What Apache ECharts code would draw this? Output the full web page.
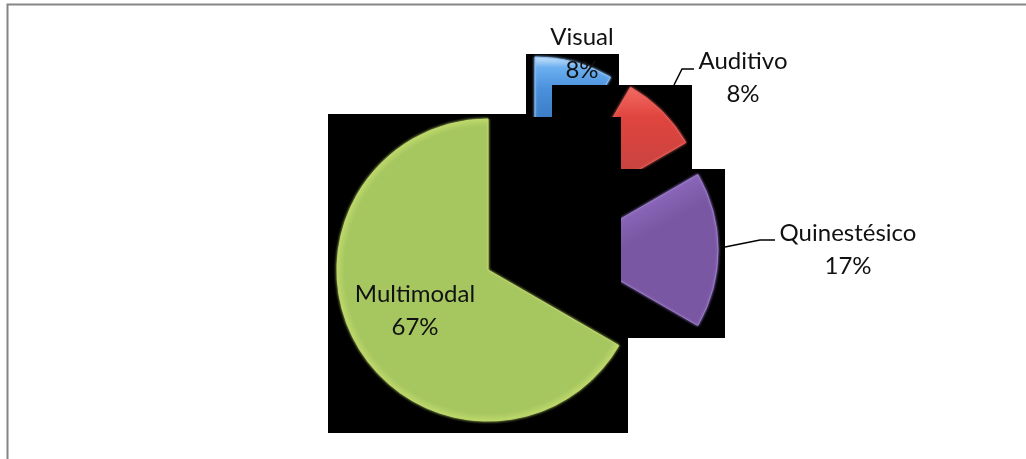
<!DOCTYPE html>
<html>
<head>
<meta charset="utf-8">
<title>Estilos de aprendizaje</title>
<style>
html,body{margin:0;padding:0;background:#fff;}
#box1{width:1026px;height:459px;}
</style>
<script src="https://cdn.jsdelivr.net/npm/echarts@6/dist/echarts.min.js"></script>
</head>
<body>
<div id="box1"></div>
<script>
var nameList = ['Visual', 'Auditivo', 'Quinestésico', 'Multimodal'];
var valueList = [1, 1, 2, 8];

// cada rebanada va separada del centro, con su recuadro negro detras
var centerList = [[535, 208], [555, 218], [567, 250], [488, 270]];
var labelPos = [[582, 54], [743, 78], [848, 250], [415, 311]];
var pieZ = [2, 4, 6, 9];
var edgeList = ['#8fc0f2', '#e8605a', '#9a7ccb', '#bfd96c'];

function linearFill(x, y, x2, y2, stops) {
	return {
		type: 'linear', x: x, y: y, x2: x2, y2: y2, global: true,
		colorStops: stops
	};
}

var fillList = [
	linearFill(0, 58, 0, 120, [
		{offset: 0, color: '#c4e0fa'},
		{offset: 0.15, color: '#6cb0f0'},
		{offset: 0.5, color: '#4a90dc'},
		{offset: 1, color: '#3b7cc4'}
	]),
	linearFill(0, 88, 0, 170, [
		{offset: 0, color: '#f26a62'},
		{offset: 0.35, color: '#e0453f'},
		{offset: 1, color: '#c9433f'}
	]),
	linearFill(640, 180, 665, 225, [
		{offset: 0, color: '#b294ea'},
		{offset: 0.35, color: '#8d68bd'},
		{offset: 1, color: '#7a57a2'}
	]),
	{
		type: 'radial', x: 488, y: 270, r: 151, global: true,
		colorStops: [
			{offset: 0, color: '#a6c660'},
			{offset: 0.95, color: '#a6c660'},
			{offset: 1, color: '#bcd86a'}
		]
	}
];

function $each(arr, fn) {
	for (var i = 0; i < arr.length; i++) {
		fn(arr[i], i);
	}
}

function sliceSeries(idx) {
	var data = [];
	$each(nameList, function (name, i) {
		var on = i == idx;
		data.push({
			name: name,
			value: valueList[i],
			itemStyle: on ? {
				color: fillList[idx],
				borderColor: edgeList[idx],
				borderWidth: 1,
				shadowBlur: 3,
				shadowColor: edgeList[idx]
			} : {color: 'rgba(0,0,0,0)', borderWidth: 0},
			label: {show: on}
		});
	});
	return {
		type: 'pie',
		z: pieZ[idx],
		silent: true,
		animation: false,
		center: centerList[idx],
		radius: [0, 151],
		startAngle: 90,
		clockwise: true,
		percentPrecision: 0,
		emphasis: {disabled: true},
		label: {
			formatter: '{b}\n{d}%',
			fontFamily: 'Lato',
			fontSize: 24,
			lineHeight: 33,
			color: '#111',
			align: 'center',
			verticalAlign: 'middle'
		},
		labelLine: {show: false},
		labelLayout: {x: labelPos[idx][0], y: labelPos[idx][1], align: 'center', verticalAlign: 'middle'},
		data: data
	};
}

function blackRect(x, y, w, h, z) {
	return {type: 'rect', z: z, silent: true, shape: {x: x, y: y, width: w, height: h}, style: {fill: '#000'}};
}

function leader(points) {
	return {type: 'polyline', z: 12, silent: true, shape: {points: points}, style: {stroke: '#000', lineWidth: 1.5, fill: null}};
}

var series = [];
$each(nameList, function (name, i) {
	series.push(sliceSeries(i));
});

var option = {
	backgroundColor: '#fff',
	animation: false,
	graphic: {
		elements: [
			{type: 'polyline', z: 0, silent: true, shape: {points: [[7.5, 459], [7.5, 4.5], [1026, 4.5]]}, style: {stroke: '#868686', lineWidth: 2, fill: null}},
			blackRect(526, 54, 93, 70, 1),
			blackRect(552, 85, 140, 88, 3),
			blackRect(552, 169, 173, 169, 5),
			blackRect(526, 117, 95, 220, 7),
			blackRect(328, 114, 198, 319, 8),
			blackRect(526, 337, 102, 96, 8),
			leader([[674, 85], [682, 69], [694, 69]]),
			leader([[725, 247], [760, 240], [775, 240]])
		]
	},
	series: series
};

var myChart = echarts.init(document.getElementById('box1'));
myChart.setOption(option, true);
</script>
</body>
</html>
